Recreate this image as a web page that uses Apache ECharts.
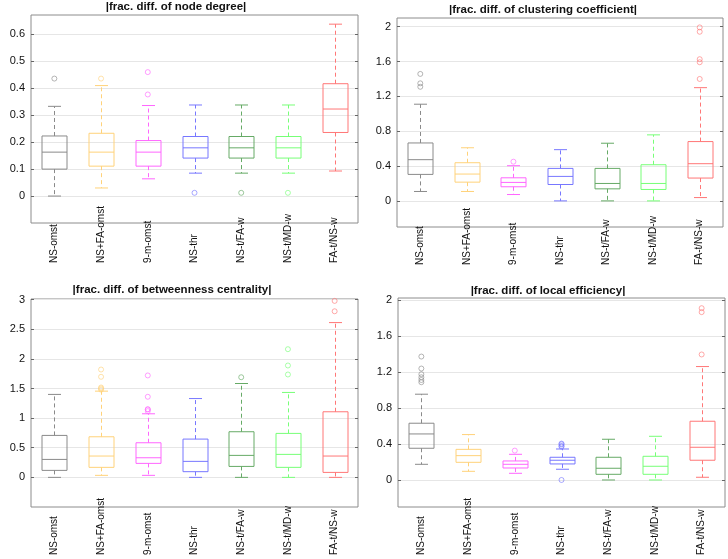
<!DOCTYPE html>
<html>
<head>
<meta charset="utf-8">
<script src="https://cdn.jsdelivr.net/npm/echarts@6/dist/echarts.min.js"></script>
<style>
html, body { margin: 0; padding: 0; background: #fff; }
#main { width: 728px; height: 559px; }
</style>
</head>
<body>
<div id="main"></div>
<script>
var categories = ['NS-omst', 'NS+FA-omst', '9-m-omst', 'NS-thr', 'NS-t/FA-w', 'NS-t/MD-w', 'FA-t/NS-w'];
var boxColors = ['#8a8a8a', '#ffd27a', '#ff66ff', '#7777ff', '#66aa66', '#77ff77', '#ff7777'];

// [lower whisker, q1, median, q3, upper whisker]
var degreeStats = [
	[0, 0.10, 0.163, 0.223, 0.333],
	[0.03, 0.111, 0.163, 0.233, 0.41],
	[0.064, 0.111, 0.163, 0.206, 0.336],
	[0.085, 0.141, 0.179, 0.221, 0.338],
	[0.085, 0.141, 0.179, 0.221, 0.338],
	[0.085, 0.141, 0.179, 0.221, 0.338],
	[0.093, 0.236, 0.323, 0.417, 0.638]
];
var degreeOutliers = [[0, 0.436], [1, 0.436], [2, 0.377], [2, 0.46], [3, 0.012], [4, 0.012], [5, 0.012]];
var degreeTicks = [0, 0.1, 0.2, 0.3, 0.4, 0.5, 0.6];

var clusteringStats = [
	[0.108, 0.304, 0.473, 0.665, 1.11],
	[0.108, 0.215, 0.308, 0.438, 0.61],
	[0.073, 0.162, 0.212, 0.265, 0.404],
	[0, 0.188, 0.281, 0.373, 0.588],
	[0, 0.138, 0.2, 0.373, 0.662],
	[0, 0.131, 0.2, 0.415, 0.758],
	[0.038, 0.262, 0.427, 0.681, 1.3]
];
var clusteringOutliers = [[0, 1.31], [0, 1.35], [0, 1.458], [2, 0.45], [6, 1.4], [6, 1.592], [6, 1.627], [6, 1.942], [6, 1.992]];
var clusteringTicks = [0, 0.4, 0.8, 1.2, 1.6, 2];

var betweennessStats = [
	[0, 0.118, 0.303, 0.708, 1.40],
	[0.034, 0.169, 0.36, 0.685, 1.455],
	[0.034, 0.236, 0.331, 0.584, 1.073],
	[0, 0.096, 0.27, 0.646, 1.33],
	[0, 0.185, 0.371, 0.77, 1.584],
	[0, 0.169, 0.388, 0.742, 1.433],
	[0, 0.084, 0.36, 1.107, 2.612]
];
var betweennessOutliers = [[1, 1.48], [1, 1.50], [1, 1.517], [1, 1.697], [1, 1.82], [2, 1.118], [2, 1.146], [2, 1.15], [2, 1.36], [2, 1.72], [4, 1.69], [5, 1.736], [5, 1.888], [5, 2.163], [6, 2.803], [6, 2.978]];
var betweennessTicks = [0, 0.5, 1, 1.5, 2, 2.5, 3];

var efficiencyStats = [
	[0.174, 0.352, 0.511, 0.63, 0.952],
	[0.096, 0.196, 0.27, 0.34, 0.504],
	[0.074, 0.133, 0.174, 0.211, 0.285],
	[0.119, 0.178, 0.219, 0.252, 0.344],
	[0, 0.063, 0.13, 0.252, 0.452],
	[0, 0.063, 0.152, 0.263, 0.485],
	[0.03, 0.219, 0.363, 0.652, 1.259]
];
var efficiencyOutliers = [[0, 1.085], [0, 1.11], [0, 1.14], [0, 1.174], [0, 1.237], [0, 1.37], [2, 0.326], [3, 0.37], [3, 0.378], [3, 0.396], [3, 0.404], [3, 0], [6, 1.393], [6, 1.863], [6, 1.907]];
var efficiencyTicks = [0, 0.4, 0.8, 1.2, 1.6, 2];

var panels = [
	{title: '|frac. diff. of node degree|', stats: degreeStats, outliers: degreeOutliers, ticks: degreeTicks,
		min: -0.1, max: 0.672, grid: {left: 31, top: 15, width: 327, height: 208}, titlePos: [176, 7], labelMargin: 40},
	{title: '|frac. diff. of clustering coefficient|', stats: clusteringStats, outliers: clusteringOutliers, ticks: clusteringTicks,
		min: -0.3, max: 2.1, grid: {left: 397, top: 18, width: 326, height: 209}, titlePos: [543, 10], labelMargin: 38},
	{title: '|frac. diff. of betweenness centrality|', stats: betweennessStats, outliers: betweennessOutliers, ticks: betweennessTicks,
		min: -0.5, max: 3.01, grid: {left: 31, top: 299, width: 327, height: 208}, titlePos: [172, 290], labelMargin: 48},
	{title: '|frac. diff. of local efficiency|', stats: efficiencyStats, outliers: efficiencyOutliers, ticks: efficiencyTicks,
		min: -0.3, max: 2.02, grid: {left: 398, top: 298, width: 327, height: 209}, titlePos: [548, 291], labelMargin: 48}
];

var fontFamily = '"Liberation Sans", Arial, sans-serif';

function renderBox(params, api) {
	var idx = api.value(0);
	var lo = api.coord([idx, api.value(1)]);
	var q1 = api.coord([idx, api.value(2)]);
	var md = api.coord([idx, api.value(3)]);
	var q3 = api.coord([idx, api.value(4)]);
	var hi = api.coord([idx, api.value(5)]);
	var cx = Math.round(lo[0]) + 0.5;
	var hw = 12.5, cw = 6.5;
	var color = boxColors[idx];
	var solid = {stroke: color, lineWidth: 1, fill: null};
	var dashed = {stroke: color, lineWidth: 1, lineDash: [4, 3], fill: null};
	return {
		type: 'group',
		children: [
			{type: 'rect', shape: {x: cx - hw, y: q3[1], width: hw * 2, height: q1[1] - q3[1]}, style: solid},
			{type: 'line', shape: {x1: cx - hw, y1: md[1], x2: cx + hw, y2: md[1]}, style: solid},
			{type: 'line', shape: {x1: cx, y1: q3[1], x2: cx, y2: hi[1]}, style: dashed},
			{type: 'line', shape: {x1: cx, y1: q1[1], x2: cx, y2: lo[1]}, style: dashed},
			{type: 'line', shape: {x1: cx - cw, y1: hi[1], x2: cx + cw, y2: hi[1]}, style: solid},
			{type: 'line', shape: {x1: cx - cw, y1: lo[1], x2: cx + cw, y2: lo[1]}, style: solid}
		]
	};
}

var chart = echarts.init(document.getElementById('main'));

var grids = [], xAxes = [], yAxes = [], series = [], graphics = [];
panels.forEach(function (p, i) {
	grids.push({left: p.grid.left, top: p.grid.top, width: p.grid.width, height: p.grid.height,
		show: true, borderColor: '#8c8c8c', borderWidth: 1, backgroundColor: 'transparent'});
	xAxes.push({
		type: 'category', gridIndex: i, data: categories, boundaryGap: true,
		axisLine: {show: false}, axisTick: {show: false}, splitLine: {show: false},
		axisLabel: {rotate: 90, align: 'left', verticalAlign: 'middle', margin: p.labelMargin,
			interval: 0, color: '#111', fontSize: 10, fontFamily: fontFamily}
	});
	yAxes.push({
		type: 'value', gridIndex: i, min: p.min, max: p.max,
		axisLine: {show: false},
		axisTick: {show: true, inside: true, length: 3, customValues: p.ticks, lineStyle: {color: '#666'}},
		axisLabel: {customValues: p.ticks, color: '#111', fontSize: 11, fontFamily: fontFamily, margin: 6},
		splitLine: {show: true, lineStyle: {color: '#e6e6e6', width: 1}}
	});
	yAxes.push({
		type: 'value', gridIndex: i, min: p.min, max: p.max, position: 'right',
		axisLine: {show: false},
		axisTick: {show: true, inside: true, length: 3, customValues: p.ticks, lineStyle: {color: '#666'}},
		axisLabel: {show: false},
		splitLine: {show: false}
	});
	series.push({
		type: 'custom', xAxisIndex: i, yAxisIndex: i * 2,
		renderItem: renderBox,
		encode: {x: 0, y: [1, 2, 3, 4, 5]},
		data: p.stats.map(function (s, k) { return [k].concat(s); }),
		z: 3, silent: true
	});
	series.push({
		type: 'scatter', xAxisIndex: i, yAxisIndex: i * 2,
		symbol: 'circle', symbolSize: 5,
		data: p.outliers.map(function (o) {
			return {value: o, itemStyle: {color: 'rgba(255,255,255,0)', borderColor: boxColors[o[0]], borderWidth: 0.8}};
		}),
		z: 4, silent: true
	});
	graphics.push({
		type: 'text', x: p.titlePos[0], y: p.titlePos[1],
		style: {text: p.title, fill: '#111', font: 'bold 11.5px ' + fontFamily, align: 'center', verticalAlign: 'middle'}
	});
});

chart.setOption({
	animation: false,
	backgroundColor: '#fff',
	grid: grids,
	xAxis: xAxes,
	yAxis: yAxes,
	series: series,
	graphic: graphics
});
</script>
</body>
</html>
